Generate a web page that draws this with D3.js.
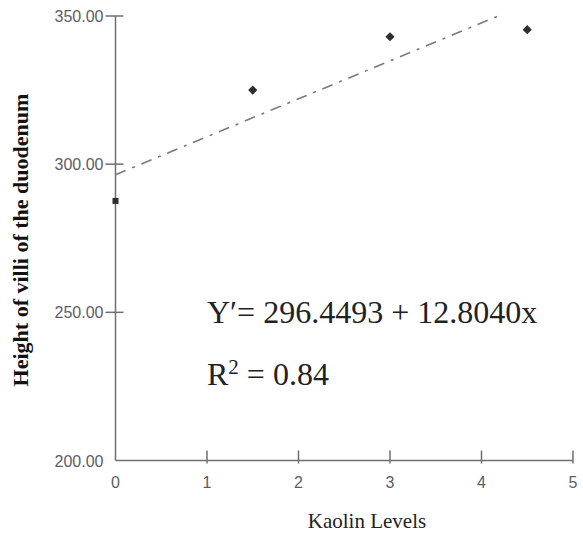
<!DOCTYPE html>
<html><head><meta charset="utf-8">
<script src="https://cdn.jsdelivr.net/npm/d3@7"></script>
<style>body{margin:0;background:#fff;}</style>
</head><body>
<script>
const levels = [0, 1.5, 3, 4.5];
const heights = [287.6, 325.0, 343.0, 345.4];
const markerShapes = ["square", "diamond", "diamond", "diamond"];
const xTicks = [0, 1, 2, 3, 4, 5];
const yTicks = [200, 250, 300, 350];
const intercept = 296.4493, slope = 12.8040;
const eqText = "Y\u2032= 296.4493 + 12.8040x";

const W = 583, H = 533;
const svg = d3.select("body").append("svg").attr("width", W).attr("height", H);
const x = d3.scaleLinear().domain([0, 5]).range([115.5, 573]);
const y = d3.scaleLinear().domain([200, 350]).range([460.5, 16]);
const axisColor = "#6f6f6f";
const tickFont = "Liberation Sans, Arial, sans-serif";

// y axis
const gy = svg.append("g");
gy.append("line").attr("x1", x(0)).attr("x2", x(0)).attr("y1", y(350)).attr("y2", y(200))
  .attr("stroke", axisColor).attr("stroke-width", 1.5);
gy.selectAll("line.t").data(yTicks.filter(d => d > 200)).join("line").attr("class", "t")
  .attr("x1", x(0) - 10).attr("x2", x(0) + 8).attr("y1", d => y(d)).attr("y2", d => y(d))
  .attr("stroke", axisColor).attr("stroke-width", 1.5);
gy.selectAll("text").data(yTicks).join("text")
  .attr("x", 103.5).attr("y", d => y(d)).attr("dy", "0.38em").attr("text-anchor", "end")
  .attr("font-family", tickFont).attr("font-size", 16)
  .attr("fill", "#5c5c68").text(d => d3.format(".2f")(d));

// x axis
const gx = svg.append("g");
gx.append("line").attr("x1", x(0)).attr("x2", x(5)).attr("y1", y(200)).attr("y2", y(200))
  .attr("stroke", axisColor).attr("stroke-width", 1.5);
gx.selectAll("line.t").data(xTicks.filter(d => d > 0)).join("line").attr("class", "t")
  .attr("x1", d => x(d)).attr("x2", d => x(d)).attr("y1", y(200) - 10).attr("y2", y(200) + 3)
  .attr("stroke", axisColor).attr("stroke-width", 1.5);
gx.selectAll("text").data(xTicks).join("text")
  .attr("x", d => x(d)).attr("y", 488).attr("text-anchor", "middle")
  .attr("font-family", tickFont).attr("font-size", 16)
  .attr("fill", "#5c5c68").text(d => d);

// regression line
const xEnd = (350 - intercept) / slope;
svg.append("line").attr("x1", x(0)).attr("y1", y(intercept))
  .attr("x2", x(xEnd)).attr("y2", y(intercept + slope * xEnd))
  .attr("stroke", "#7a7a7a").attr("stroke-width", 1.6).attr("stroke-dasharray", "11,7,3,7");

// markers
svg.selectAll("path.pt").data(levels).join("path").attr("class", "pt")
  .attr("transform", (d, i) => `translate(${x(d)},${y(heights[i])}) rotate(${markerShapes[i] === "diamond" ? 45 : 0})`)
  .attr("d", (d, i) => d3.symbol().type(d3.symbolSquare).size(markerShapes[i] === "square" ? 36 : 42)())
  .attr("fill", "#2e2e2e");

// equation
const serif = "Liberation Serif, Times New Roman, serif";
svg.append("text").attr("x", 207).attr("y", 323).attr("font-family", serif).attr("font-size", 32)
  .attr("fill", "#222").text(eqText);
const r2 = svg.append("text").attr("x", 207).attr("y", 385).attr("font-family", serif).attr("font-size", 32)
  .attr("fill", "#222");
r2.append("tspan").text("R");
r2.append("tspan").attr("dy", -11).attr("font-size", 21).text("2");
r2.append("tspan").attr("dy", 11).text(" = 0.84");

// axis titles
svg.append("text").attr("x", 367).attr("y", 528).attr("text-anchor", "middle")
  .attr("font-family", serif).attr("font-size", 21).attr("fill", "#222").text("Kaolin Levels");
svg.append("text").attr("transform", "translate(28,240) rotate(-90)").attr("text-anchor", "middle")
  .attr("font-family", serif).attr("font-size", 22).attr("font-weight", "bold").attr("fill", "#111")
  .text("Height of villi of the duodenum");
</script>
</body></html>
